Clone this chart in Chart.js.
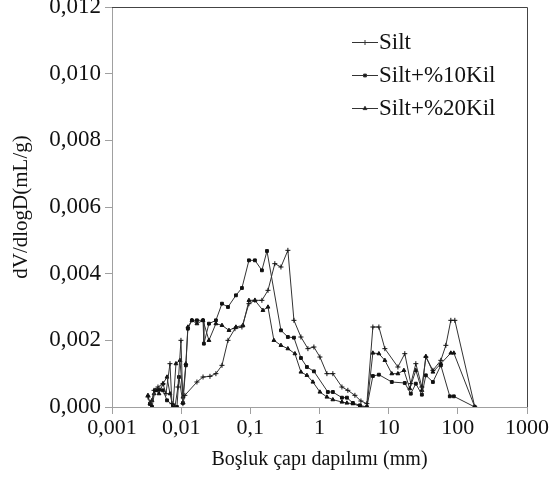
<!DOCTYPE html>
<html>
<head>
<meta charset="utf-8">
<script src="https://cdn.jsdelivr.net/npm/chart.js@4.4.0/dist/chart.umd.min.js"></script>
<style>
    html, body { margin: 0; padding: 0; background: #fff; }
</style>
</head>
<body>
<canvas id="chart" width="552" height="477"></canvas>
<script>
var seriesNames = ['Silt', 'Silt+%10Kil', 'Silt+%20Kil'];

var xTicks = [0.001, 0.01, 0.1, 1, 10, 100, 1000];
var xTickLabels = ['0,001', '0,01', '0,1', '1', '10', '100', '1000'];
var yTickLabels = ['0,000', '0,002', '0,004', '0,006', '0,008', '0,010', '0,012'];

// Silt
var siltX = [0.00331, 0.00366, 0.00405, 0.00462, 0.00546, 0.00603, 0.00689, 0.00736, 0.00813, 0.00899, 0.00993, 0.0106, 0.0113, 0.0169, 0.0207, 0.0261, 0.0318, 0.0389, 0.0475, 0.0599, 0.0756, 0.0955, 0.1165, 0.147, 0.18, 0.226, 0.277, 0.349, 0.427, 0.539, 0.68, 0.83, 1.014, 1.28, 1.56, 2.11, 2.57, 3.25, 3.97, 4.84, 5.91, 7.22, 8.81, 13.6, 17.1, 20.9, 24.7, 30.2, 34.5, 43.6, 56.8, 67.1, 79.2, 90.5, 176];
var siltY = [0.0003, 0.00005, 0.0005, 0.0006, 0.0007, 0.0004, 0.0013, 0.0001, 0.0, 0.0006, 0.002, 0.0001, 0.00035, 0.00075, 0.0009, 0.00092, 0.001, 0.00125, 0.002, 0.00235, 0.0024, 0.0031, 0.0032, 0.0032, 0.0035, 0.0043, 0.0042, 0.0047, 0.0026, 0.0021, 0.00175, 0.0018, 0.0015, 0.001, 0.001, 0.0006, 0.0005, 0.00035, 0.00018, 0.0001, 0.0024, 0.0024, 0.00175, 0.0012, 0.0016, 0.0007, 0.0013, 0.0006, 0.0015, 0.0011, 0.0014, 0.00185, 0.0026, 0.0026, 0.0];

// Silt + %10 Kil
var kil10X = [0.00354, 0.00379, 0.00418, 0.00478, 0.00546, 0.00624, 0.00762, 0.00869, 0.00929, 0.0106, 0.0117, 0.0125, 0.0143, 0.0169, 0.0207, 0.0213, 0.0252, 0.0318, 0.0389, 0.0475, 0.0619, 0.0756, 0.0955, 0.1165, 0.147, 0.174, 0.277, 0.349, 0.427, 0.539, 0.658, 0.83, 1.32, 1.56, 2.11, 2.49, 3.04, 3.84, 4.84, 5.91, 7.22, 11.1, 17.1, 20.9, 24.7, 30.2, 34.5, 43.6, 56.8, 76.6, 87.5, 176];
var kil10Y = [0.0001, 0.0, 0.0005, 0.00052, 0.0005, 0.0002, 0.00005, 0.0, 0.0009, 0.00012, 0.00125, 0.00235, 0.0026, 0.0026, 0.0026, 0.0019, 0.0025, 0.0026, 0.0031, 0.003, 0.00335, 0.00357, 0.0044, 0.0044, 0.0041, 0.00468, 0.0023, 0.0021, 0.00208, 0.00147, 0.0012, 0.00107, 0.00045, 0.00045, 0.00028, 0.00028, 0.00012, 0.00005, 0.0, 0.00093, 0.00097, 0.00075, 0.00072, 0.0004, 0.0007, 0.00037, 0.00095, 0.00075, 0.00125, 0.00032, 0.00032, 0.0];

// Silt + %20 Kil
var kil20X = [0.00331, 0.00354, 0.00379, 0.00405, 0.00432, 0.00478, 0.00546, 0.00624, 0.00689, 0.00762, 0.00841, 0.00961, 0.0106, 0.0117, 0.0125, 0.0143, 0.0169, 0.0207, 0.0252, 0.0318, 0.0389, 0.0491, 0.0619, 0.0782, 0.0955, 0.1165, 0.152, 0.18, 0.219, 0.277, 0.349, 0.441, 0.539, 0.658, 0.803, 1.014, 1.28, 1.56, 2.11, 2.49, 3.04, 3.84, 4.84, 5.91, 7.22, 8.81, 11.1, 13.6, 16.6, 20.2, 24.7, 30.2, 34.5, 43.6, 56.8, 79.2, 87.5, 176];
var kil20Y = [0.00035, 0.0001, 0.0002, 0.0004, 0.0005, 0.0004, 0.0007, 0.0009, 0.0004, 0.0, 0.0013, 0.0014, 0.0003, 0.0013, 0.0024, 0.0026, 0.0025, 0.0026, 0.002, 0.0025, 0.00245, 0.0023, 0.0024, 0.00245, 0.0032, 0.0032, 0.0029, 0.003, 0.002, 0.00185, 0.00175, 0.0016, 0.00105, 0.00095, 0.00075, 0.00045, 0.0003, 0.00022, 0.00015, 0.00012, 0.0001, 0.00002, 0.0, 0.00162, 0.0016, 0.0014, 0.001, 0.001, 0.0011, 0.00055, 0.0011, 0.0005, 0.00152, 0.00105, 0.0013, 0.00162, 0.00162, 0.0];

var serif = "'Liberation Serif', 'Times New Roman', serif";

function toPoints(xs, ys) {
    return xs.map(function (x, i) { return { x: x, y: ys[i] }; });
}

function makeSet(label, xs, ys, style, radius) {
    return {
        label: label,
        data: toPoints(xs, ys),
        showLine: true,
        borderColor: '#333',
        backgroundColor: '#111',
        borderWidth: 1,
        pointStyle: style,
        pointRadius: radius,
        pointBorderWidth: 1,
        pointBorderColor: '#111',
        pointBackgroundColor: '#111',
        tension: 0
    };
}

// top/right frame plus the legend inside the plot
var framePlugin = {
    id: 'frame',
    afterDraw: function (chart) {
        var ctx = chart.ctx;
        var a = chart.chartArea;
        ctx.save();
        ctx.strokeStyle = '#444';
        ctx.lineWidth = 1;
        ctx.beginPath();
        ctx.moveTo(a.left, Math.round(a.top) + 0.5);
        ctx.lineTo(Math.round(a.right) + 0.5, Math.round(a.top) + 0.5);
        ctx.lineTo(Math.round(a.right) + 0.5, a.bottom);
        ctx.stroke();

        var rowsY = [42, 75, 108];
        ctx.font = '23px ' + serif;
        ctx.textBaseline = 'middle';
        ctx.fillStyle = '#111';
        chart.data.datasets.forEach(function (ds, i) {
            var y = rowsY[i] + 0.5;
            ctx.strokeStyle = '#333';
            ctx.beginPath();
            ctx.moveTo(352, y);
            ctx.lineTo(378, y);
            ctx.stroke();
            Chart.helpers.drawPoint(ctx, {
                pointStyle: ds.pointStyle,
                radius: ds.pointRadius,
                rotation: 0,
                borderWidth: 1
            }, 365, y);
            ctx.fillText(ds.label, 379, rowsY[i] + 1);
        });
        ctx.restore();
    }
};

new Chart(document.getElementById('chart'), {
    type: 'scatter',
    data: {
        datasets: [
            makeSet(seriesNames[0], siltX, siltY, 'cross', 2.5),
            makeSet(seriesNames[1], kil10X, kil10Y, 'rect', 2),
            makeSet(seriesNames[2], kil20X, kil20Y, 'triangle', 2.2)
        ]
    },
    options: {
        responsive: false,
        animation: false,
        devicePixelRatio: 1,
        layout: { padding: { left: 0, right: 25, top: 7, bottom: 0 } },
        plugins: {
            legend: { display: false },
            tooltip: { enabled: false }
        },
        scales: {
            x: {
                type: 'logarithmic',
                min: 0.001,
                max: 1000,
                afterBuildTicks: function (scale) {
                    scale.ticks = xTicks.map(function (v) { return { value: v }; });
                },
                afterFit: function (scale) {
                    scale.height = 70;
                    scale.paddingLeft = 0;
                    scale.paddingRight = 0;
                },
                grid: { drawOnChartArea: false, tickLength: 7, color: '#a0a0a0' },
                border: { color: '#a0a0a0' },
                ticks: {
                    autoSkip: false,
                    maxRotation: 0,
                    padding: 1,
                    color: '#111',
                    font: { family: serif, size: 22 },
                    callback: function (value) {
                        var i = xTicks.indexOf(value);
                        return i >= 0 ? xTickLabels[i] : '';
                    }
                },
                title: {
                    display: true,
                    text: 'Boşluk çapı dapılımı (mm)',
                    color: '#111',
                    font: { family: serif, size: 20 },
                    padding: { top: 0, bottom: 5 }
                }
            },
            y: {
                min: 0,
                max: 0.012,
                afterFit: function (scale) {
                    scale.width = 112;
                    scale.paddingTop = 0;
                    scale.paddingBottom = 0;
                },
                grid: { drawOnChartArea: false, tickLength: 7, color: '#a0a0a0' },
                border: { color: '#a0a0a0' },
                ticks: {
                    stepSize: 0.002,
                    padding: 4,
                    color: '#111',
                    font: { family: serif, size: 23 },
                    callback: function (value, index) {
                        return yTickLabels[index];
                    }
                },
                title: {
                    display: true,
                    text: 'dV/dlogD(mL/g)',
                    color: '#111',
                    font: { family: serif, size: 21 },
                    padding: { top: 9, bottom: 0 }
                }
            }
        }
    },
    plugins: [framePlugin]
});
</script>
</body>
</html>
